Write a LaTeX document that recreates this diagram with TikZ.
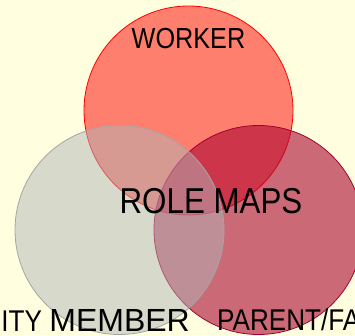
\documentclass[tikz,border=0pt]{standalone}
\usepackage{fontspec}
\setmainfont{Liberation Sans}
\newfontfamily\narrowfont[FakeStretch=0.87]{Liberation Sans}
\definecolor{bgyellow}{RGB}{255,255,224}
\definecolor{workerfill}{RGB}{255,0,0}
\definecolor{parentfill}{RGB}{171,5,50}
\definecolor{parentline}{RGB}{160,0,50}
\definecolor{commfill}{RGB}{177,181,184}
\definecolor{commline}{RGB}{165,165,165}
\tikzset{
  ring/.style={circle, minimum size=209pt, inner sep=0pt, line width=0.8pt},
  lbl/.style={inner sep=0pt, anchor=base, text=black}
}
\begin{document}
\begin{tikzpicture}[x=1pt,y=-1pt]
\fill[bgyellow] (0,0) rectangle (355,335);
\useasboundingbox (0,0) rectangle (355,335);
\clip (0,0) rectangle (355,335);
\node[ring, draw=red, fill=workerfill, fill opacity=0.5] (worker) at (188.5,110.5) {};
\node[ring, draw=parentline, fill=parentfill, fill opacity=0.6] (parent) at (258.5,230) {};
\node[ring, draw=commline, fill=commfill, fill opacity=0.5] (community) at (119.5,230) {};
\node[lbl] (tworker) at (188.5,48) {\narrowfont\fontsize{29}{29}\selectfont WORKER};
\node[lbl] (trole) at (211,213) {\narrowfont\fontsize{36}{36}\selectfont ROLE MAPS};
\node[lbl, anchor=base east] (tcomm) at (190,331) {\narrowfont\fontsize{30}{30}\selectfont COMMUNITY \fontsize{32}{32}\selectfont\rmfamily MEMBER};
\node[lbl, anchor=base west] (tparent) at (217,330) {\narrowfont\fontsize{30}{30}\selectfont PARENT/FAMILY};
\end{tikzpicture}
\end{document}
